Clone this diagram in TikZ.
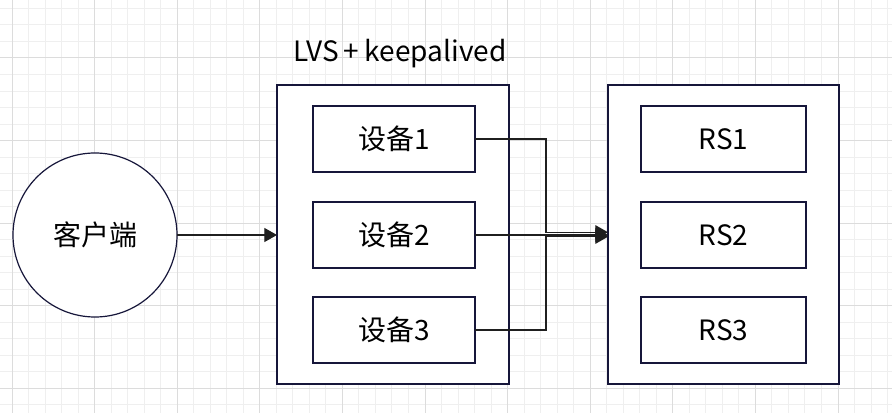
\documentclass[tikz,border=0pt]{standalone}
\usepackage{fontspec}
\setmainfont{Noto Sans CJK SC}
\usetikzlibrary{arrows.meta}
\definecolor{edge}{HTML}{16163A}
\definecolor{gmin}{HTML}{EFEFEF}
\definecolor{gmaj}{HTML}{DCDCDC}
\tikzset{
  txt/.style={font=\fontsize{21pt}{24pt}\selectfont},
  box/.style={draw=edge, line width=0.9pt, fill=white, rectangle, inner sep=0pt, outer sep=0pt, txt},
  dev/.style={box, minimum width=121.5pt, minimum height=49.5pt},
  conn/.style={draw=black!88, line width=0.9pt, -{Triangle[length=9.5pt,width=10.5pt]}},
  minorline/.style={draw=gmin, line width=0.75pt},
  majorline/.style={draw=gmaj, line width=0.75pt},
}
\begin{document}
\begin{tikzpicture}[x=0.75pt,y=-0.75pt]
\useasboundingbox (0,0) rectangle (892,413);
\fill[white] (0,0) rectangle (892,413);
% grid
\foreach \i in {0,...,53} \draw[minorline] ({12+16.52*\i},0) -- ({12+16.52*\i},413);
\foreach \j in {0,...,24} \draw[minorline] (0,{8.44+16.52*\j}) -- (892,{8.44+16.52*\j});
\foreach \i in {0,...,10} \draw[majorline] ({12+82.6*\i},0) -- ({12+82.6*\i},413);
\foreach \j in {0,...,4} \draw[majorline] (0,{58+82.6*\j}) -- (892,{58+82.6*\j});
% client
\node[box, circle, minimum size=123pt] (client) at (95,235) {客户端};
% left container
\node[box, minimum width=174pt, minimum height=224.25pt] (lb) at (393,234.5) {};
\node[txt, anchor=base, inner sep=0pt] (title) at (400,62) {LVS\kern3.5pt+\kern4.5pt keepalived};
\node[dev] (d1) at (394,139) {设备1};
\node[dev] (d2) at (394,235) {设备2};
\node[dev] (d3) at (394,330) {设备3};
% right container
\node[box, minimum width=173.25pt, minimum height=224.25pt] (rb) at (723.5,234.5) {};
\node[dev, minimum width=123.75pt] (r1) at (723.5,139) {RS1};
\node[dev, minimum width=123.75pt] (r2) at (723.5,235) {RS2};
\node[dev, minimum width=123.75pt] (r3) at (723.5,330) {RS3};
% connectors
\draw[conn] (client.east) -- (client.east -| lb.west);
\coordinate (j1) at ([yshift=1.7pt]rb.west);
\coordinate (j3) at ([yshift=-1.7pt]rb.west);
\draw[conn] (d1.east) -- (546,139) |- (j1);
\draw[conn] (d2.east) -- (d2.east -| rb.west);
\draw[conn] (d3.east) -- (546,330) |- (j3);
\end{tikzpicture}
\end{document}
